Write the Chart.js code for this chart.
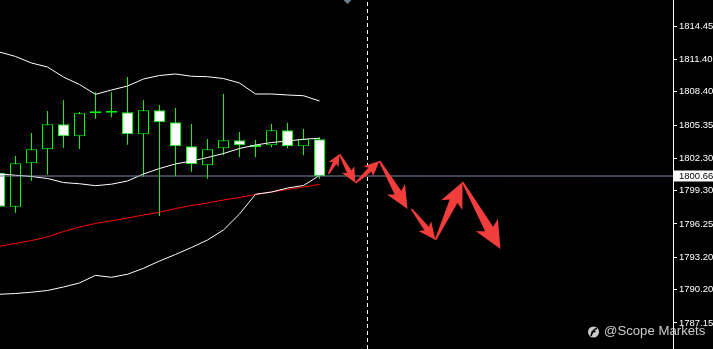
<!DOCTYPE html>
<html><head><meta charset="utf-8">
<script src="https://cdn.jsdelivr.net/npm/chart.js@4.4.0/dist/chart.umd.min.js"></script>
<style>html,body{margin:0;padding:0;background:#000;overflow:hidden}#wrap{position:relative;width:713px;height:349px}</style>
</head><body><div id="wrap"><canvas id="c"></canvas></div>
<script>
// ---- data ----
const candleIndex = [0,1,2,3,4,5,6,7,8,9,10,11,12,13,14,15,16,17,18,19,20];
const openP  = [1800.97,1797.84,1801.83,1803.12,1805.41,1804.31,1806.61,1806.48,1806.52,1804.50,1806.70,1805.60,1803.39,1801.65,1803.21,1803.94,1803.51,1803.48,1804.86,1803.39,1804.04];
const highP  = [1801.30,1802.50,1804.61,1806.64,1807.62,1806.55,1808.36,1808.36,1809.76,1807.62,1807.19,1806.91,1805.44,1804.06,1808.20,1804.71,1803.97,1805.47,1805.56,1804.98,1804.22];
const lowP   = [1797.50,1797.29,1800.23,1800.78,1803.26,1803.14,1805.93,1806.06,1803.54,1800.60,1796.99,1800.63,1801.06,1800.41,1802.57,1802.38,1802.38,1803.30,1803.21,1802.57,1800.41];
const closeP = [1797.84,1801.83,1803.12,1805.41,1804.31,1806.43,1806.43,1806.64,1804.50,1806.70,1805.60,1803.39,1801.74,1803.12,1803.94,1803.48,1803.30,1804.86,1803.39,1804.04,1800.66];
const bbUpper  = [1812.06,1811.65,1811.05,1810.68,1809.76,1809.07,1808.17,1808.57,1808.93,1809.58,1809.90,1810.04,1809.83,1809.79,1809.62,1809.21,1808.20,1808.20,1808.11,1808.04,1807.56];
const bbMiddle = [1800.85,1800.73,1800.62,1800.43,1800.06,1799.95,1799.77,1799.91,1800.20,1800.85,1801.35,1801.77,1802.04,1802.36,1802.73,1803.19,1803.51,1803.74,1803.88,1804.04,1804.13];
const bbLower  = [1789.79,1789.86,1789.98,1790.14,1790.46,1790.83,1791.53,1791.35,1791.63,1792.18,1792.85,1793.45,1794.09,1794.78,1795.70,1797.17,1798.98,1799.19,1799.56,1799.79,1800.71];
const maRed    = [1794.20,1794.46,1794.73,1795.06,1795.56,1795.97,1796.30,1796.55,1796.80,1797.08,1797.33,1797.67,1797.95,1798.18,1798.46,1798.69,1798.96,1799.19,1799.42,1799.65,1799.90];
const yTickLabels = ['1814.45','1811.40','1808.40','1805.35','1802.30','1799.30','1796.25','1793.20','1790.20','1787.15'];
const bidPrice = 1800.66;
const bidLabel = '1800.66';
const futureLineIndex = 23;
const shiftMarkerIndex = 21.75;
const arrowTailX = [20.56,21.25,22.25,23.75,25.75,27.25,28.94];
const arrowTailY = [1800.85,1802.68,1800.02,1802.04,1797.63,1794.78,1800.11];
const arrowTipX  = [21.25,22.25,23.75,25.50,27.25,28.94,31.31];
const arrowTipY  = [1802.68,1800.02,1802.04,1797.63,1794.78,1800.11,1793.95];
const watermarkText = '@Scope Markets';
const xMin = 0.03125, xMax = 42.09375;
const yMin = 1784.76, yMax = 1816.84;

const GREEN = '#00ff00';
const pts = arr => arr.map((v,i)=>({x:candleIndex[i], y:v}));

const bgPlugin = {
  id:'bg',
  beforeDraw(chart){
    const c = chart.ctx; c.save(); c.fillStyle='#000'; c.fillRect(0,0,chart.width,chart.height); c.restore();
  }
};

function drawArrow(ctx,x0,y0,x1,y1){
  const dx=x1-x0, dy=y1-y0, L=Math.hypot(dx,dy);
  const ux=dx/L, uy=dy/L, nx=-uy, ny=ux;
  const h=Math.min(23, Math.max(9, 4+0.27*L));
  const w=h*0.55, s=h*0.2, t=0.8, back=h*0.2;
  const bx=x1-ux*h, by=y1-uy*h;
  ctx.beginPath();
  ctx.moveTo(x0+nx*t, y0+ny*t);
  ctx.lineTo(bx+nx*s, by+ny*s);
  ctx.lineTo(bx-ux*back+nx*w, by-uy*back+ny*w);
  ctx.lineTo(x1,y1);
  ctx.lineTo(bx-ux*back-nx*w, by-uy*back-ny*w);
  ctx.lineTo(bx-nx*s, by-ny*s);
  ctx.lineTo(x0-nx*t, y0-ny*t);
  ctx.closePath();
  ctx.fill();
}

const overlayPlugin = {
  id:'overlay',
  afterDatasetsDraw(chart){
    const ctx=chart.ctx, xs=chart.scales.x, ys=chart.scales.y;
    ctx.save();
    ctx.fillStyle='#f23d3d';
    for(let i=0;i<arrowTailX.length;i++){
      drawArrow(ctx, xs.getPixelForValue(arrowTailX[i]), ys.getPixelForValue(arrowTailY[i]),
                     xs.getPixelForValue(arrowTipX[i]), ys.getPixelForValue(arrowTipY[i]));
    }
    const mx = xs.getPixelForValue(shiftMarkerIndex);
    ctx.fillStyle='#6f8090';
    ctx.beginPath(); ctx.moveTo(mx-4,0); ctx.lineTo(mx+4,0); ctx.lineTo(mx,4); ctx.closePath(); ctx.fill();
    ctx.restore();
  },
  afterDraw(chart){
    const ctx=chart.ctx, ys=chart.scales.y, area=chart.chartArea;
    ctx.save();
    const by = ys.getPixelForValue(bidPrice);
    ctx.fillStyle='#fff';
    ctx.fillRect(area.right+1, Math.round(by)-5.5, 713-area.right-1, 11);
    ctx.fillStyle='#000';
    ctx.font='9.5px "Liberation Sans"';
    ctx.textBaseline='middle';
    ctx.fillText(bidLabel, area.right+6, by);
    // watermark
    ctx.fillStyle='rgba(215,215,215,0.95)';
    ctx.beginPath(); ctx.arc(593.5,332,5.5,0,Math.PI*2); ctx.fill();
    ctx.strokeStyle='#000'; ctx.lineWidth=1.6;
    ctx.beginPath(); ctx.moveTo(591,336); ctx.quadraticCurveTo(593,329,597,328.5); ctx.stroke();
    ctx.beginPath(); ctx.moveTo(591.5,332); ctx.lineTo(595.5,331.5); ctx.stroke();
    ctx.fillStyle='rgba(215,215,215,0.95)';
    ctx.font='13.2px "Liberation Sans"';
    ctx.textBaseline='middle';
    ctx.fillText(watermarkText, 604, 331.5);
    ctx.restore();
  }
};

const lineDs = (data,color,order,extra={}) => Object.assign({type:'line', data, borderColor:color, borderWidth:1, pointRadius:0, tension:0, fill:false, order}, extra);

new Chart(document.getElementById('c'), {
  type:'bar',
  data:{
    datasets:[
      {type:'bar', data: candleIndex.map((x,i)=>({x, y:[lowP[i],highP[i]]})), backgroundColor:GREEN, borderWidth:0,
       barThickness:1, grouped:false, inflateAmount:0, order:3},
      {type:'bar', data: candleIndex.map((x,i)=>({x, y:[openP[i],closeP[i]]})),
       backgroundColor: candleIndex.map(i=> closeP[i]>=openP[i] ? '#000' : '#fff'),
       borderColor:GREEN, borderWidth:1, borderSkipped:false, barThickness:11, grouped:false, inflateAmount:0, order:2},
      lineDs(pts(bbUpper),'#ffffff',1),
      lineDs(pts(bbMiddle),'#ffffff',1),
      lineDs(pts(bbLower),'#ffffff',1),
      lineDs(pts(maRed),'#ff0000',1),
      lineDs([{x:xMin,y:bidPrice},{x:xMax,y:bidPrice}],'#7b8da2',0),
      lineDs([{x:futureLineIndex,y:yMin},{x:futureLineIndex,y:yMax}],'#ffffff',0,{borderDash:[4,3]})
    ]
  },
  options:{
    responsive:true, maintainAspectRatio:false, animation:false,
    layout:{padding:0},
    plugins:{legend:{display:false}, tooltip:{enabled:false}},
    scales:{
      x:{type:'linear', min:xMin, max:xMax, offset:false, display:false, grid:{offset:false}},
      y:{type:'linear', position:'right', min:yMin, max:yMax,
         afterBuildTicks(s){ s.ticks = yTickLabels.map(v=>({value:parseFloat(v)})); },
         afterFit(s){ s.width=40; s.paddingTop=0; s.paddingBottom=0; },
         grid:{drawOnChartArea:false, drawTicks:true, tickLength:4, color:'#ffffff', tickWidth:1},
         border:{display:true, color:'#ffffff', width:1},
         ticks:{color:'#ffffff', padding:2, autoSkip:false, font:{family:'Liberation Sans', size:9.5},
                callback:(v)=> yTickLabels.find(t=>parseFloat(t)===v) || v.toFixed(2)}
      }
    }
  },
  plugins:[bgPlugin, overlayPlugin]
});
</script></body></html>
